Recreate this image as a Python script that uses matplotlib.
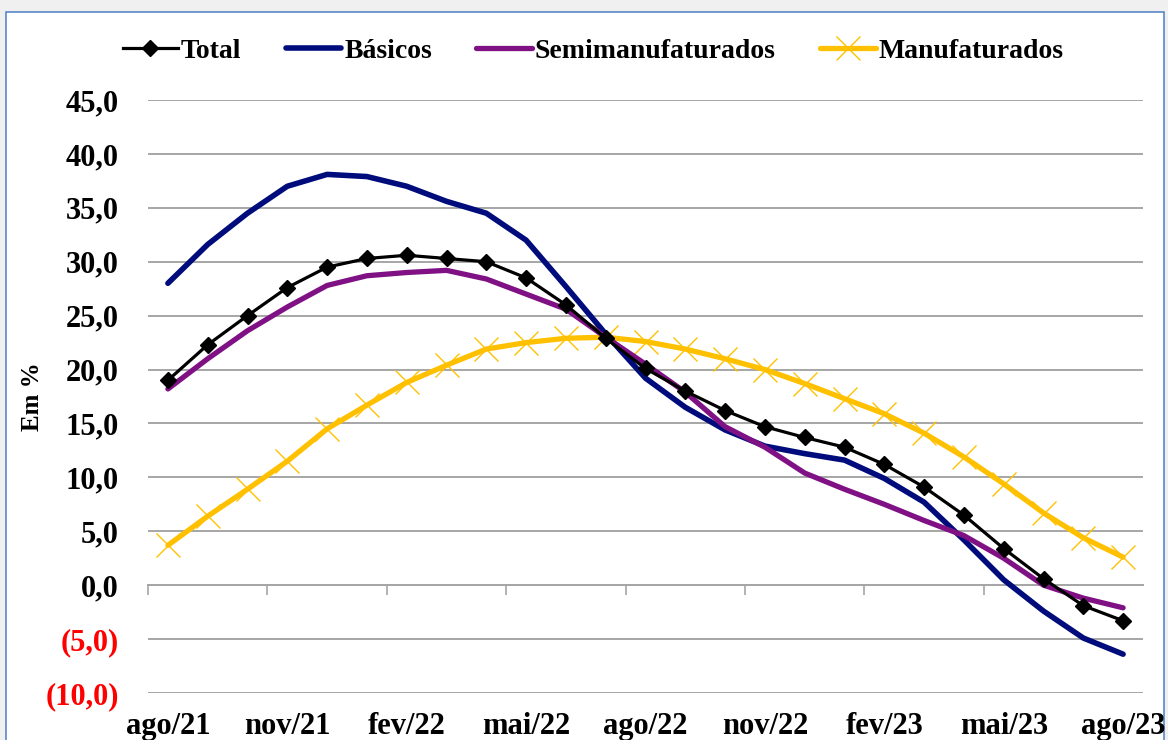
import matplotlib
matplotlib.use("Agg")
import matplotlib.pyplot as plt
from matplotlib.patches import Rectangle
from matplotlib.ticker import FixedLocator

months = ["ago/21", "set/21", "out/21", "nov/21", "dez/21", "jan/22", "fev/22", "mar/22",
          "abr/22", "mai/22", "jun/22", "jul/22", "ago/22", "set/22", "out/22", "nov/22",
          "dez/22", "jan/23", "fev/23", "mar/23", "abr/23", "mai/23", "jun/23", "jul/23", "ago/23"]

total = [19.0, 22.3, 25.0, 27.6, 29.5, 30.3, 30.6, 30.3, 30.0, 28.5, 26.0, 22.9, 20.1,
         18.0, 16.2, 14.7, 13.7, 12.8, 11.2, 9.1, 6.5, 3.4, 0.6, -1.9, -3.3]
basicos = [28.0, 31.6, 34.5, 37.0, 38.1, 37.9, 37.0, 35.6, 34.5, 32.0, 27.7, 23.3, 19.2,
           16.5, 14.4, 12.9, 12.2, 11.6, 9.9, 7.7, 4.2, 0.5, -2.4, -4.9, -6.4]
semi = [18.2, 21.0, 23.6, 25.8, 27.8, 28.7, 29.0, 29.2, 28.4, 27.0, 25.6, 23.0, 20.5,
        17.9, 14.7, 12.8, 10.4, 8.9, 7.5, 6.0, 4.6, 2.5, 0.0, -1.2, -2.1]
manuf = [3.7, 6.4, 8.9, 11.5, 14.5, 16.7, 18.8, 20.4, 21.9, 22.5, 22.9, 23.0, 22.6,
         21.9, 21.0, 20.0, 18.7, 17.3, 15.9, 14.1, 11.9, 9.4, 6.7, 4.4, 2.6]

y_ticks = [-10, -5, 0, 5, 10, 15, 20, 25, 30, 35, 40, 45]

FONT = "Liberation Serif"
plt.rcParams["font.family"] = [FONT, "DejaVu Serif"]
plt.rcParams["font.weight"] = "bold"

fig = plt.figure(figsize=(11.68, 7.40), dpi=100, facecolor="#f0f0f0")
bg = Rectangle((6 / 1168, -0.05), (1164 - 6) / 1168, (740 - 12) / 740 + 0.05,
               transform=fig.transFigure, facecolor="white",
               edgecolor="#5b87c9", linewidth=1.2, zorder=-10)
fig.patches.append(bg)

ax = fig.add_axes([148 / 1168, (740 - 693) / 740, (1143 - 148) / 1168, (693 - 100) / 740])
ax.set_facecolor("none")
x = list(range(len(months)))

ax.plot(x, basicos, color="#000c7b", lw=4.0, solid_capstyle="round", label="Básicos", zorder=3)
ax.plot(x, semi, color="#7f1184", lw=3.8, solid_capstyle="round", label="Semimanufaturados", zorder=4)
ax.plot(x, manuf, color="#ffc000", lw=3.8, solid_capstyle="round", marker="x", markersize=17,
        markeredgewidth=1.0, label="Manufaturados", zorder=2)
ax.plot(x, total, color="black", lw=2.3, marker="D", markersize=8.5, label="Total", zorder=5)

ax.set_xlim(-0.5, len(months) - 0.5)
ax.set_ylim(-10, 45)
for s in ax.spines.values():
    s.set_visible(False)

ax.set_yticks(y_ticks)
ax.yaxis.grid(True, color="#a6a6a6", lw=1.4)
ax.set_axisbelow(True)
ylabels = []
for v in y_ticks:
    if v < 0:
        ylabels.append("(" + f"{-v:.1f}".replace(".", ",") + ")")
    else:
        ylabels.append(f"{v:.1f}".replace(".", ","))
ax.set_yticklabels(ylabels, fontsize=22, fontweight="bold")
for lab, v in zip(ax.get_yticklabels(), y_ticks):
    lab.set_color("red" if v < 0 else "black")
ax.tick_params(axis="y", length=0, pad=21)

lab_pos = x[::3]
ax.set_xticks(lab_pos)
ax.set_xticklabels([months[i] for i in lab_pos], fontsize=22, fontweight="bold")
ax.tick_params(axis="x", length=0, pad=14)

# category axis drawn at y = 0 with tick marks between categories
zero_frac = (0 - (-10)) / (45 - (-10))
sec = ax.secondary_xaxis(zero_frac)
sec.spines["bottom"].set_color("#a6a6a6")
sec.spines["bottom"].set_linewidth(1.4)
sec.xaxis.set_major_locator(FixedLocator([p - 0.5 for p in lab_pos[:-1]]))
sec.tick_params(axis="x", length=7, width=1.2, color="#a6a6a6", labelbottom=False)

ax.set_ylabel("Em %", fontsize=18, fontweight="bold")
ax.yaxis.set_label_coords(-0.105, 0.5)

handles, labels = ax.get_legend_handles_labels()
order = [3, 0, 1, 2]
leg = fig.legend([handles[i] for i in order], [labels[i] for i in order],
                 loc="center", bbox_to_anchor=(593 / 1168, (740 - 51) / 740), ncol=4,
                 frameon=False, handlelength=2.0, handletextpad=0.1,
                 columnspacing=1.6, prop={"weight": "bold", "size": 20})

fig.savefig("out.png", dpi=100, facecolor=fig.get_facecolor())
